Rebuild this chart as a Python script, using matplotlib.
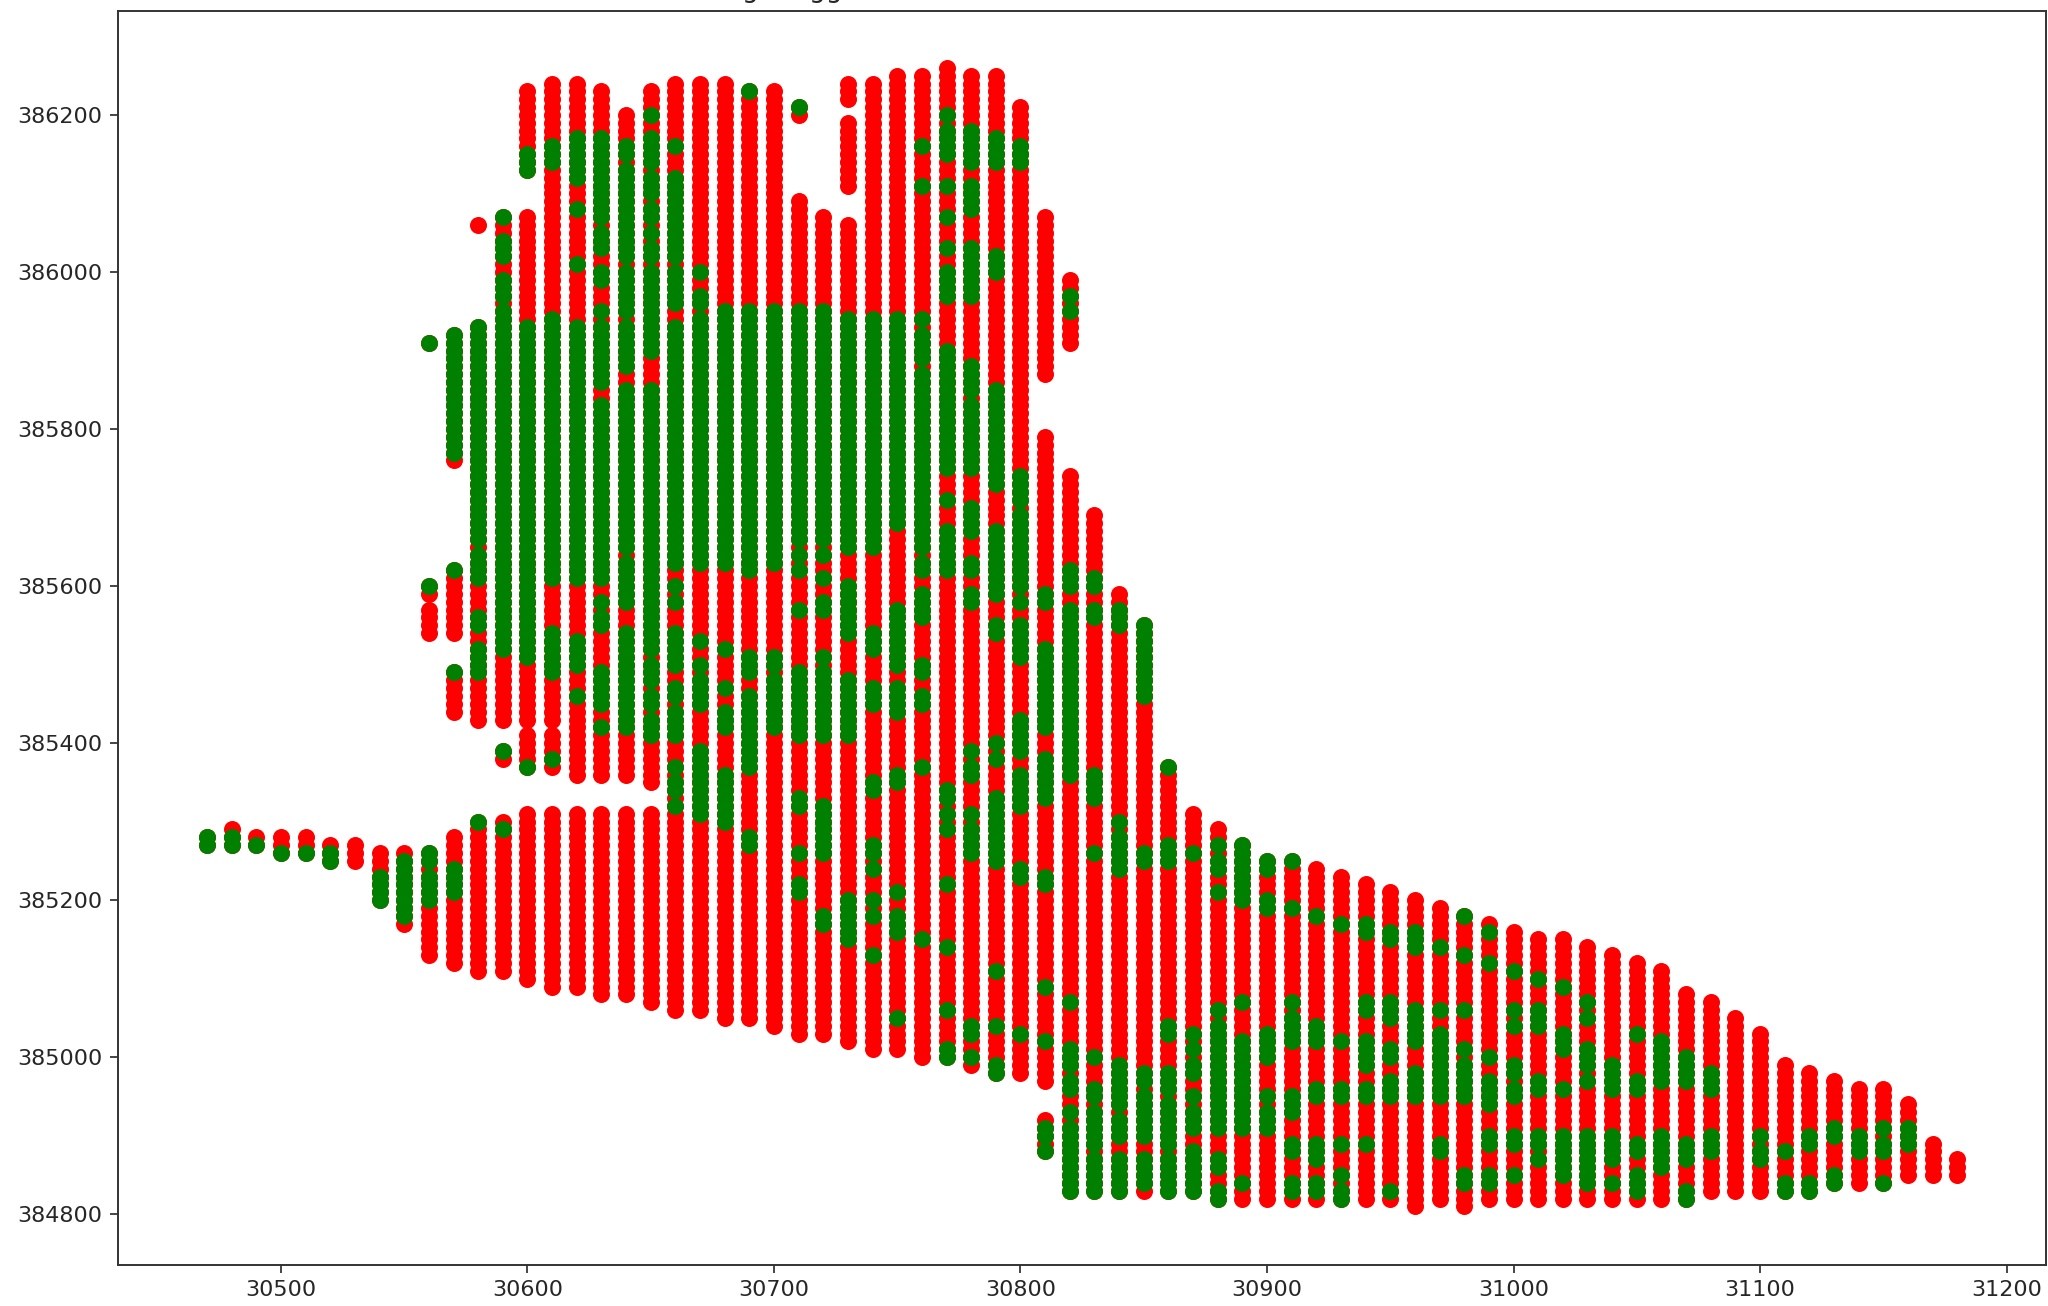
import matplotlib
matplotlib.use("Agg")
import matplotlib.pyplot as plt

# column positions (easting), one survey line every 10 m
columns = [30470, 30480, 30490, 30500, 30510, 30520, 30530, 30540, 30550, 30560,
           30570, 30580, 30590, 30600, 30610, 30620, 30630, 30640, 30650, 30660,
           30670, 30680, 30690, 30700, 30710, 30720, 30730, 30740, 30750, 30760,
           30770, 30780, 30790, 30800, 30810, 30820, 30830, 30840, 30850, 30860,
           30870, 30880, 30890, 30900, 30910, 30920, 30930, 30940, 30950, 30960,
           30970, 30980, 30990, 31000, 31010, 31020, 31030, 31040, 31050, 31060,
           31070, 31080, 31090, 31100, 31110, 31120, 31130, 31140, 31150, 31160,
           31170, 31180]

# northing runs (low, high), one list per column
red_runs = [
    [(385270, 385280)], [(385270, 385290)], [(385270, 385280)], [(385260, 385280)],
    [(385260, 385280)], [(385250, 385270)], [(385250, 385270)], [(385200, 385260)],
    [(385170, 385260)],
    [(385130, 385260), (385540, 385570), (385590, 385600), (385910, 385910)],
    [(385120, 385280), (385440, 385490), (385540, 385620), (385760, 385920)],
    [(385110, 385300), (385430, 385930), (386060, 386060)],
    [(385110, 385300), (385380, 385390), (385430, 386070)],
    [(385100, 385310), (385370, 385410), (385430, 386070), (386130, 386230)],
    [(385090, 385310), (385370, 385410), (385430, 386240)],
    [(385090, 385310), (385360, 386240)],
    [(385080, 385310), (385360, 386230)],
    [(385080, 385310), (385360, 386200)],
    [(385070, 385310), (385350, 386230)],
    [(385060, 386240)], [(385060, 386240)], [(385050, 386240)], [(385050, 386230)],
    [(385040, 386230)],
    [(385030, 386090), (386200, 386210)],
    [(385030, 386070)],
    [(385020, 386060), (386110, 386190), (386220, 386240)],
    [(385010, 386240)], [(385010, 386250)], [(385000, 386250)], [(385000, 386260)],
    [(384990, 386250)], [(384980, 386250)], [(384980, 386210)],
    [(384880, 384920), (384970, 385790), (385870, 386070)],
    [(384830, 385740), (385910, 385990)],
    [(384830, 385690)], [(384830, 385590)], [(384830, 385550)], [(384830, 385370)],
    [(384830, 385310)], [(384820, 385290)], [(384820, 385270)], [(384820, 385250)],
    [(384820, 385250)], [(384820, 385240)], [(384820, 385230)], [(384820, 385220)],
    [(384820, 385210)], [(384810, 385200)], [(384820, 385190)], [(384810, 385180)],
    [(384820, 385170)], [(384820, 385160)], [(384820, 385150)], [(384820, 385150)],
    [(384820, 385140)], [(384820, 385130)], [(384820, 385120)], [(384820, 385110)],
    [(384820, 385080)], [(384830, 385070)], [(384830, 385050)], [(384830, 385030)],
    [(384830, 384990)], [(384830, 384980)], [(384840, 384970)], [(384840, 384960)],
    [(384840, 384960)], [(384850, 384940)], [(384850, 384890)], [(384850, 384870)],
]

green_runs = [
    [(385270, 385280)], [(385270, 385280)], [(385270, 385270)], [(385260, 385260)],
    [(385260, 385260)], [(385250, 385260)], [], [(385200, 385230)],
    [(385180, 385250)],
    [(385200, 385230), (385250, 385260), (385600, 385600), (385910, 385910)],
    [(385210, 385240), (385490, 385490), (385620, 385620), (385770, 385920)],
    [(385300, 385300), (385490, 385520), (385550, 385560), (385610, 385640), (385660, 385930)],
    [(385290, 385290), (385390, 385390), (385520, 385950), (385970, 385990), (386020, 386040),
     (386070, 386070)],
    [(385370, 385370), (385510, 385930), (386130, 386150)],
    [(385380, 385380), (385490, 385540), (385610, 385940), (386140, 386160)],
    [(385460, 385460), (385500, 385530), (385610, 385930), (386010, 386010), (386080, 386080),
     (386120, 386170)],
    [(385420, 385420), (385450, 385490), (385550, 385560), (385580, 385580), (385610, 385830),
     (385860, 385930), (385950, 385950), (385990, 386000), (386030, 386050), (386070, 386170)],
    [(385420, 385540), (385580, 385630), (385650, 385850), (385880, 385930), (385950, 386000),
     (386020, 386130), (386150, 386160)],
    [(385410, 385430), (385450, 385460), (385480, 385500), (385520, 385850), (385900, 386000),
     (386020, 386030), (386050, 386050), (386070, 386080), (386100, 386120), (386140, 386170),
     (386200, 386200)],
    [(385320, 385320), (385340, 385350), (385370, 385370), (385410, 385440), (385460, 385470),
     (385500, 385540), (385580, 385580), (385600, 385600), (385630, 385930), (385960, 386000),
     (386020, 386120), (386160, 386160)],
    [(385310, 385390), (385450, 385480), (385500, 385500), (385530, 385530), (385630, 385940),
     (385960, 385970), (386000, 386000)],
    [(385300, 385360), (385420, 385440), (385470, 385470), (385520, 385520), (385630, 385950)],
    [(385270, 385280), (385370, 385460), (385490, 385510), (385620, 385950), (386230, 386230)],
    [(385420, 385480), (385500, 385510), (385630, 385950)],
    [(385210, 385220), (385260, 385260), (385320, 385330), (385410, 385490), (385570, 385570),
     (385620, 385620), (385640, 385640), (385660, 385950), (386210, 386210)],
    [(385170, 385180), (385260, 385320), (385410, 385490), (385510, 385510), (385570, 385580),
     (385610, 385610), (385640, 385640), (385660, 385950)],
    [(385150, 385200), (385410, 385480), (385540, 385600), (385650, 385940)],
    [(385130, 385130), (385180, 385180), (385200, 385200), (385240, 385240), (385260, 385270),
     (385340, 385350), (385450, 385470), (385520, 385540), (385650, 385940)],
    [(385050, 385050), (385160, 385180), (385210, 385210), (385350, 385360), (385440, 385470),
     (385500, 385570), (385680, 385940)],
    [(385150, 385150), (385370, 385370), (385450, 385460), (385490, 385500), (385560, 385590),
     (385620, 385630), (385650, 385870), (385890, 385920), (385940, 385940), (386110, 386110),
     (386160, 386160)],
    [(385000, 385010), (385060, 385060), (385140, 385140), (385220, 385220), (385290, 385290),
     (385310, 385310), (385330, 385340), (385620, 385670), (385710, 385710), (385750, 385900),
     (385970, 386000), (386030, 386030), (386070, 386070), (386110, 386110), (386150, 386180),
     (386200, 386200)],
    [(385000, 385000), (385030, 385040), (385260, 385290), (385310, 385310), (385360, 385370),
     (385390, 385390), (385580, 385590), (385620, 385630), (385670, 385700), (385750, 385830),
     (385850, 385880), (385970, 386030), (386080, 386110), (386140, 386180)],
    [(384980, 384990), (385040, 385040), (385110, 385110), (385250, 385330), (385380, 385380),
     (385400, 385400), (385540, 385550), (385590, 385670), (385730, 385850), (386000, 386020),
     (386140, 386170)],
    [(385030, 385030), (385230, 385240), (385320, 385360), (385390, 385430), (385510, 385550),
     (385580, 385580), (385600, 385690), (385710, 385740), (386140, 386160)],
    [(384880, 384880), (384900, 384910), (385020, 385020), (385090, 385090), (385220, 385230),
     (385330, 385380), (385420, 385520), (385580, 385590)],
    [(384830, 384910), (384930, 384930), (384960, 384970), (384990, 385010), (385070, 385070),
     (385360, 385570), (385600, 385620), (385950, 385950), (385970, 385970)],
    [(384830, 384870), (384890, 384930), (384950, 384960), (385000, 385000), (385260, 385260),
     (385330, 385360), (385560, 385570), (385600, 385610)],
    [(384830, 384870), (384900, 384920), (384940, 384990), (385240, 385280), (385300, 385300),
     (385550, 385570)],
    [(384840, 384870), (384900, 384950), (384970, 384980), (385250, 385260), (385460, 385550)],
    [(384830, 384870), (384890, 384940), (384960, 384980), (385030, 385040), (385250, 385270),
     (385370, 385370)],
    [(384830, 384880), (384910, 384930), (384950, 384950), (384980, 384990), (385010, 385010),
     (385030, 385030), (385260, 385260)],
    [(384820, 384830), (384860, 384870), (384910, 385040), (385060, 385060), (385210, 385210),
     (385240, 385250), (385270, 385270)],
    [(384840, 384840), (384910, 385020), (385070, 385070), (385200, 385270)],
    [(384910, 384930), (384950, 384950), (385000, 385030), (385190, 385200), (385240, 385250)],
    [(384830, 384840), (384880, 384890), (384930, 384950), (385020, 385050), (385070, 385070),
     (385190, 385190), (385250, 385250)],
    [(384830, 384840), (384870, 384890), (384950, 384960), (385020, 385040), (385180, 385180)],
    [(384820, 384830), (384850, 384850), (384890, 384890), (384950, 384960), (385020, 385020),
     (385170, 385170)],
    [(384890, 384890), (384950, 384960), (384990, 385020), (385060, 385070), (385160, 385170)],
    [(384830, 384830), (384950, 384970), (385000, 385010), (385050, 385070), (385150, 385160)],
    [(384950, 384980), (385020, 385060), (385140, 385160)],
    [(384880, 384890), (384950, 385030), (385060, 385060), (385140, 385140)],
    [(384840, 384850), (384950, 384990), (385010, 385010), (385060, 385060), (385130, 385130),
     (385180, 385180)],
    [(384840, 384850), (384890, 384900), (384940, 384970), (385000, 385000), (385120, 385120),
     (385160, 385160)],
    [(384850, 384850), (384890, 384900), (384950, 384960), (384980, 384990), (385040, 385040),
     (385060, 385060), (385110, 385110)],
    [(384870, 384870), (384890, 384900), (384960, 384970), (385040, 385060), (385100, 385100)],
    [(384850, 384900), (384960, 384960), (385010, 385030), (385090, 385090)],
    [(384840, 384900), (384970, 384970), (384990, 385010), (385050, 385050), (385070, 385070)],
    [(384840, 384840), (384870, 384900), (384960, 384990)],
    [(384830, 384850), (384880, 384890), (384960, 384970), (385030, 385030)],
    [(384860, 384900), (384970, 385020)],
    [(384820, 384830), (384870, 384890), (384970, 385000)],
    [(384880, 384900), (384960, 384980)],
    [],
    [(384870, 384880), (384900, 384900)],
    [(384830, 384840), (384880, 384880)],
    [(384830, 384840), (384890, 384900)],
    [(384840, 384850), (384900, 384910)],
    [(384880, 384900)],
    [(384840, 384840), (384880, 384890), (384910, 384910)],
    [(384890, 384910)],
    [],
    [],
]

x_ticks = [30500, 30600, 30700, 30800, 30900, 31000, 31100, 31200]
y_ticks = [384800, 385000, 385200, 385400, 385600, 385800, 386000, 386200]


def expand(runs):
    # the picture is a regular grid, a run is one point every 10 m
    xs, ys = [], []
    for x, col in zip(columns, runs):
        for low, high in col:
            for y in range(low, high + 1, 10):
                xs.append(x)
                ys.append(y)
    return xs, ys


fig = plt.figure(figsize=(20.48, 13.06), dpi=100)
ax = fig.add_axes([117.5 / 2048, 41.5 / 1306, 1928.5 / 2048, 1254 / 1306])

red_x, red_y = expand(red_runs)
green_x, green_y = expand(green_runs)
ax.scatter(red_x, red_y, color="red", s=150, linewidths=0)
ax.scatter(green_x, green_y, color="green", s=150, linewidths=0)

ax.set_xlim(30433.7, 31216)
ax.set_ylim(384736, 386333)
ax.set_xticks(x_ticks)
ax.set_xticklabels([str(v) for v in x_ticks])
ax.set_yticks(y_ticks)
ax.set_yticklabels([str(v) for v in y_ticks])
ax.tick_params(labelsize=16, length=6, width=1.2, pad=5, colors="#262626")
for spine in ax.spines.values():
    spine.set_linewidth(1.4)
    spine.set_color("#333333")

# the title is cut off by the top edge, only these descenders are left
fig.text(742 / 2048, 1.002, "g      gg", fontsize=19, color="#262626", va="baseline", ha="left")

fig.savefig("out.png", dpi=100)
